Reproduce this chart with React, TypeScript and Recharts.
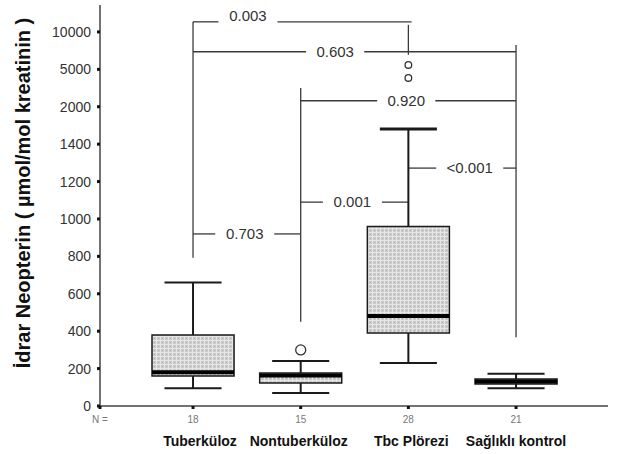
import React from 'react';
import {
  ComposedChart,
  XAxis,
  YAxis,
  ReferenceArea,
  ReferenceLine,
  ReferenceDot,
  Scatter,
} from 'recharts';

// ---------- data ----------
const categories = ['Tuberküloz', 'Nontuberküloz', 'Tbc Plörezi', 'Sağlıklı kontrol'];
const nValues = [18, 15, 28, 21];
const whiskerLow = [95, 70, 230, 95];
const q1 = [160, 123, 390, 118];
const median = [180, 163, 481, 131];
const q3 = [380, 176, 960, 144];
const whiskerHigh = [660, 240, 1645, 173];
const outliers: number[][] = [[], [300], [4310, 5590], []];
const yTickValues = [0, 200, 400, 600, 800, 1000, 1200, 1400, 2000, 5000, 10000];

// significance brackets (group numbers, 1-based)
const pLabels = ['0.003', '0.603', '0.920', '0.703', '0.001', '<0.001'];
const pFrom = [1, 1, 2, 1, 2, 3];
const pTo = [3, 4, 4, 2, 3, 4];

// ---------- layout (axis units) ----------
const pLineY = [10.27, 9.47, 8.16, 4.6, 5.45, 6.36];
const pTextY = [10.44, 9.47, 8.16, 4.6, 5.45, 6.36];
const pTextX = [1.51, 2.32, 2.98, 1.48, 2.48, 3.57];
const pGap = [0.274, 0.27, 0.27, 0.274, 0.274, 0.311];
const pRightExtra = [0.03, 0, 0, 0, 0, 0];
// vertical connector lines per group: [top, bottom]
const connTop = [10.27, 8.5, 10.19, 9.65];
const connBottom = [3.96, 2.25, 9.39, 1.84];

const BOX_HALF = 0.381;
const CAP_HALF = 0.265;
const outlierR = [4, 5, 3.3, 4];
const catLabelShift = [7, -2, 3, 0];

const FONT = 'Arial, "Liberation Sans", Helvetica, sans-serif';

const toIdx = (v: number) => {
  for (let i = 0; i < yTickValues.length - 1; i++) {
    if (v <= yTickValues[i + 1]) {
      return i + (v - yTickValues[i]) / (yTickValues[i + 1] - yTickValues[i]);
    }
  }
  return yTickValues.length - 1;
};

const rows = categories.map((c, i) => ({
  x: i + 1,
  name: c,
  n: nValues[i],
}));

const outlierPoints = outliers.flatMap((arr, i) =>
  arr.map((v) => ({ x: i + 1, y: toIdx(v), g: i }))
);

const X_DOMAIN: [number, number] = [0.136, 4.854];
const Y_DOMAIN: [number, number] = [0, 10.72];

const LINE = '#3a3a3a';
const BOXSTROKE = '#1a1a1a';
const NX = 'axis0';
const CX = 'axis1';

const CatTick = (props: any) => {
  const { x, y, payload, index } = props;
  return (
    <text
      x={x + (catLabelShift[index] || 0)}
      y={y}
      dy="0.71em"
      textAnchor="middle"
      fontFamily={FONT}
      fontSize={14}
      fontWeight="bold"
      fill="#111"
    >
      {categories[payload.value - 1]}
    </text>
  );
};

const YLabel = (props: any) => {
  const vb = props.viewBox || { x: 0, y: 0, width: 0, height: 0 };
  const x = vb.x + 30;
  const y = vb.y + vb.height / 2 - 12.5;
  return (
    <text
      x={x}
      y={y}
      transform={`rotate(-90 ${x} ${y})`}
      textAnchor="middle"
      fontFamily={FONT}
      fontSize={20}
      fontWeight="bold"
      fill="#111"
    >
      İdrar Neopterin ( µmol/mol kreatinin )
    </text>
  );
};

const OutlierShape = (props: any) => {
  const { cx, cy, payload } = props;
  return (
    <circle cx={cx} cy={cy} r={outlierR[payload.g]} fill="#fff" stroke="#333" strokeWidth={1.3} />
  );
};

export default function App() {
  const areas: React.ReactNode[] = [];
  const lines: React.ReactNode[] = [];
  const labels: React.ReactNode[] = [];

  // connectors
  categories.forEach((_, i) => {
    lines.push(
      <ReferenceLine
        key={`conn${i}`}
        xAxisId={NX}
        segment={[
          { x: i + 1, y: connTop[i] },
          { x: i + 1, y: connBottom[i] },
        ]}
        stroke={LINE}
        strokeWidth={1.3}
        ifOverflow="visible"
      />
    );
  });

  // brackets
  pLabels.forEach((lab, k) => {
    const y = pLineY[k];
    lines.push(
      <ReferenceLine
        key={`bl${k}`}
        xAxisId={NX}
        segment={[
          { x: pFrom[k], y },
          { x: pTextX[k] - pGap[k], y },
        ]}
        stroke={LINE}
        strokeWidth={1.3}
        ifOverflow="visible"
      />,
      <ReferenceLine
        key={`br${k}`}
        xAxisId={NX}
        segment={[
          { x: pTextX[k] + pGap[k], y },
          { x: pTo[k] + pRightExtra[k], y },
        ]}
        stroke={LINE}
        strokeWidth={1.3}
        ifOverflow="visible"
      />
    );
    labels.push(
      <ReferenceDot
        key={`pl${k}`}
        xAxisId={NX}
        x={pTextX[k]}
        y={pTextY[k]}
        r={0.5}
        fill="none"
        stroke="none"
        ifOverflow="visible"
        label={{
          value: lab,
          position: 'center',
          fontSize: 15,
          fill: '#333',
          fontFamily: FONT,
        }}
      />
    );
  });

  // boxes
  categories.forEach((_, i) => {
    const cx = i + 1;
    areas.push(
      <ReferenceArea
        key={`box${i}`}
        xAxisId={NX}
        x1={cx - BOX_HALF}
        x2={cx + BOX_HALF}
        y1={toIdx(q1[i])}
        y2={toIdx(q3[i])}
        fill="url(#dotFill)"
        fillOpacity={1}
        stroke={BOXSTROKE}
        strokeWidth={1.5}
        ifOverflow="visible"
      />
    );
    lines.push(
      <ReferenceLine
        key={`wu${i}`}
        xAxisId={NX}
        segment={[
          { x: cx, y: toIdx(q3[i]) },
          { x: cx, y: toIdx(whiskerHigh[i]) },
        ]}
        stroke={BOXSTROKE}
        strokeWidth={2}
      />,
      <ReferenceLine
        key={`wl${i}`}
        xAxisId={NX}
        segment={[
          { x: cx, y: toIdx(q1[i]) },
          { x: cx, y: toIdx(whiskerLow[i]) },
        ]}
        stroke={BOXSTROKE}
        strokeWidth={2}
      />,
      <ReferenceLine
        key={`cu${i}`}
        xAxisId={NX}
        segment={[
          { x: cx - CAP_HALF, y: toIdx(whiskerHigh[i]) },
          { x: cx + CAP_HALF, y: toIdx(whiskerHigh[i]) },
        ]}
        stroke={BOXSTROKE}
        strokeWidth={i === 2 ? 3 : 2}
      />,
      <ReferenceLine
        key={`cl${i}`}
        xAxisId={NX}
        segment={[
          { x: cx - CAP_HALF, y: toIdx(whiskerLow[i]) },
          { x: cx + CAP_HALF, y: toIdx(whiskerLow[i]) },
        ]}
        stroke={BOXSTROKE}
        strokeWidth={2}
      />,
      <ReferenceLine
        key={`md${i}`}
        xAxisId={NX}
        segment={[
          { x: cx - BOX_HALF, y: toIdx(median[i]) },
          { x: cx + BOX_HALF, y: toIdx(median[i]) },
        ]}
        stroke="#000"
        strokeWidth={4}
      />
    );
  });

  return (
    <div style={{ position: 'absolute', left: 0, top: 0 }}>
      <ComposedChart
        width={619}
        height={454}
        data={rows}
        margin={{ top: 5, right: 11, bottom: 0, left: 0 }}
      >
        <defs>
          <pattern id="dotFill" width="4" height="4" patternUnits="userSpaceOnUse">
            <rect width="4" height="4" fill="#cacaca" />
            <rect x="0" y="0" width="4" height="1" fill="#e6e6e6" />
            <rect x="0" y="0" width="1" height="4" fill="#e6e6e6" />
            <rect x="2" y="2" width="1" height="1" fill="#b2b2b2" />
          </pattern>
        </defs>
        <XAxis
          xAxisId={NX}
          dataKey="x"
          type="number"
          domain={X_DOMAIN}
          ticks={[X_DOMAIN[0], 1, 2, 3, 4]}
          interval={0}
          allowDataOverflow
          tickFormatter={(v: number) => (v < 0.5 ? 'N =' : String(nValues[Math.round(v) - 1]))}
          height={20}
          axisLine={{ stroke: '#444', strokeWidth: 1.5 }}
          tickLine={{ stroke: '#111', strokeWidth: 3 }}
          tickSize={3}
          tickMargin={7}
          tick={{ fontSize: 10, fill: '#777', fontFamily: FONT }}
        />
        <XAxis
          xAxisId={CX}
          dataKey="x"
          type="number"
          domain={X_DOMAIN}
          ticks={[1, 2, 3, 4]}
          interval={0}
          allowDataOverflow
          height={28}
          axisLine={false}
          tickLine={false}
          tickSize={0}
          tickMargin={10}
          tick={<CatTick />}
        />
        <YAxis
          type="number"
          domain={Y_DOMAIN}
          ticks={[0, 1, 2, 3, 4, 5, 6, 7, 8, 9, 10]}
          interval={0}
          allowDataOverflow
          width={100}
          tickFormatter={(v: number) => String(yTickValues[v])}
          axisLine={{ stroke: '#444', strokeWidth: 1.5 }}
          tickLine={{ stroke: '#111', strokeWidth: 3 }}
          tickSize={3}
          tickMargin={6}
          tick={{ fontSize: 14, fill: '#333', fontFamily: FONT }}
          label={{ content: <YLabel /> }}
        />
        {areas}
        {lines}
        <Scatter
          xAxisId={NX}
          data={outlierPoints}
          dataKey="y"
          shape={<OutlierShape />}
          isAnimationActive={false}
        />
        {labels}
      </ComposedChart>
    </div>
  );
}
